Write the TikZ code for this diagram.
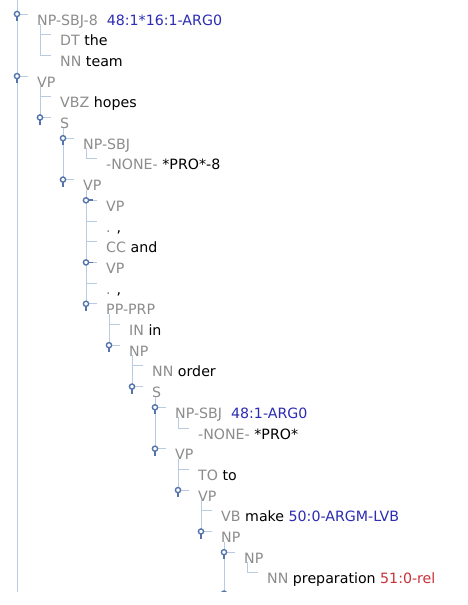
\documentclass[tikz,border=0pt]{standalone}
\usepackage{fontspec}
\setmainfont{DejaVu Sans}
\definecolor{tl}{HTML}{B9CBE2}
\definecolor{hc}{HTML}{5574AC}
\definecolor{cat}{HTML}{8C8C8C}
\definecolor{argc}{HTML}{2C2CB4}
\definecolor{relc}{HTML}{C83238}
\tikzset{
 tline/.style={draw=tl,line width=0.9pt},
 lab/.style={anchor=base west,inner sep=0pt,font=\fontsize{14.2}{16}\selectfont,text=black},
 ring/.style={circle,draw=hc,fill=white,line width=1.4pt,minimum size=5.2pt,inner sep=0pt},
 stem/.style={draw=hc,line width=1.8pt},
}
\newcommand\Cat[1]{\textcolor{cat}{#1}}
\newcommand\Arg[1]{\textcolor{argc}{#1}}
\newcommand\Rel[1]{\textcolor{relc}{#1}}
% id, level, row, text
\newcommand\rowbase[4]{%
 \pgfmathsetmacro\hx{17+23*#2}\pgfmathsetmacro\ly{14+20.7*#3}\pgfmathsetmacro\by{25+20.7*#3}%
 \coordinate (#1h) at (\hx,\ly);
 \node[lab] (#1) at (\hx+20,\by) {#4};
 \draw[tline] (#1h) -- ++(11,0);}
\newcommand\leafrow[4]{\rowbase{#1}{#2}{#3}{#4}}
% id, level, row, last child row, text
\newcommand\exprow[5]{\rowbase{#1}{#2}{#3}{#5}%
 \pgfmathsetmacro\ey{14+20.7*#4}%
 \coordinate (#1e) at (\hx+23,\ey);
 \draw[tline] ([shift={(23,10)}]#1h) -- (#1e);
 \draw[stem] (#1h) -- ++(0,7);
 \node[ring] (#1k) at (#1h) {};}
\newcommand\colrow[4]{\rowbase{#1}{#2}{#3}{#4}%
 \draw[stem] (#1h) -- ++(7,0);
 \node[ring] (#1k) at (#1h) {};}
\begin{document}
\begin{tikzpicture}[x=1pt,y=-1pt]
\useasboundingbox (0,0) rectangle (467,605);
\fill[white] (0,0) rectangle (467,605);
\clip (0,0) rectangle (467,591);
\coordinate (rtop) at (17,0);
\coordinate (rbot) at (17,600);
\draw[tline] (rtop) -- (rbot);
\exprow{r0}{0}{0}{2}{\Cat{NP-SBJ-8}\hspace{9pt}\Arg{48:1*16:1-ARG0}}
\leafrow{r1}{1}{1}{\Cat{DT} the}
\leafrow{r2}{1}{2}{\Cat{NN} team}
\exprow{r3}{0}{3}{5}{\Cat{VP}}
\leafrow{r4}{1}{4}{\Cat{VBZ} hopes}
\exprow{r5}{1}{5}{8}{\Cat{S}}
\exprow{r6}{2}{6}{7}{\Cat{NP-SBJ}}
\leafrow{r7}{3}{7}{\Cat{-NONE-} *PRO*-8}
\exprow{r8}{2}{8}{14}{\Cat{VP}}
\colrow{r9}{3}{9}{\Cat{VP}}
\leafrow{r10}{3}{10}{\Cat{.} ,}
\leafrow{r11}{3}{11}{\Cat{CC} and}
\colrow{r12}{3}{12}{\Cat{VP}}
\leafrow{r13}{3}{13}{\Cat{.} ,}
\exprow{r14}{3}{14}{16}{\Cat{PP-PRP}}
\leafrow{r15}{4}{15}{\Cat{IN} in}
\exprow{r16}{4}{16}{18}{\Cat{NP}}
\leafrow{r17}{5}{17}{\Cat{NN} order}
\exprow{r18}{5}{18}{21}{\Cat{S}}
\exprow{r19}{6}{19}{20}{\Cat{NP-SBJ}\hspace{9pt}\Arg{48:1-ARG0}}
\leafrow{r20}{7}{20}{\Cat{-NONE-} *PRO*}
\exprow{r21}{6}{21}{23}{\Cat{VP}}
\leafrow{r22}{7}{22}{\Cat{TO} to}
\exprow{r23}{7}{23}{25}{\Cat{VP}}
\leafrow{r24}{8}{24}{\Cat{VB} make \Arg{50:0-ARGM-LVB}}
\exprow{r25}{8}{25}{28}{\Cat{NP}}
\exprow{r26}{9}{26}{27}{\Cat{NP}}
\leafrow{r27}{10}{27}{\Cat{NN} preparation \Rel{51:0-rel}}
\coordinate (r28h) at (224,593.6);
\draw[tline] (r28h) -- ++(11,0);
\node[ring] (r28k) at (r28h) {};
\end{tikzpicture}
\end{document}
